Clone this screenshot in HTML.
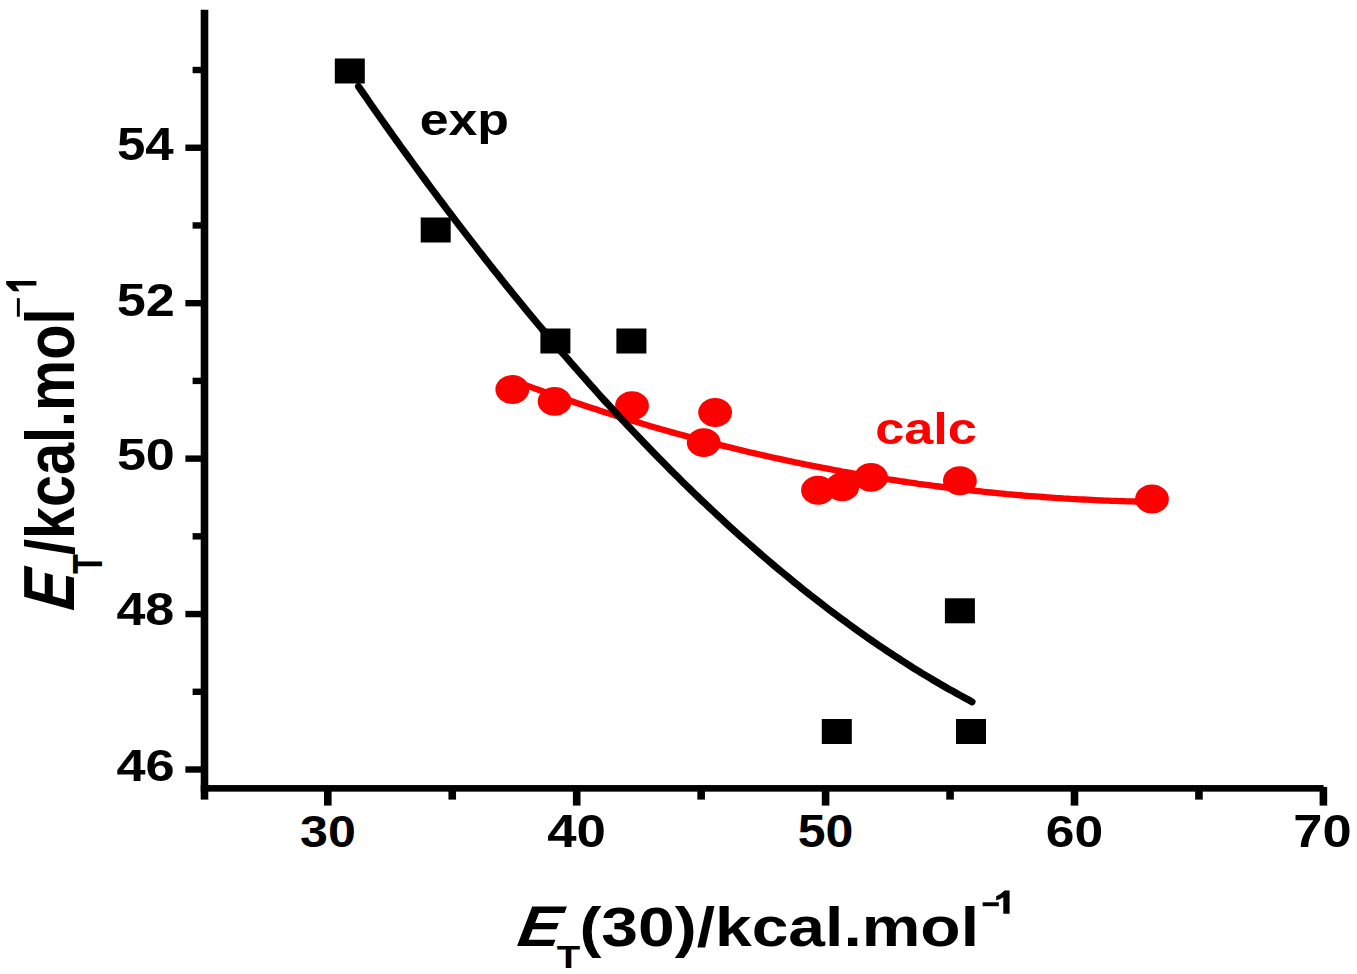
<!DOCTYPE html><html><head><meta charset="utf-8"><style>html,body{margin:0;padding:0;background:#fff;overflow:hidden}svg{display:block}text{opacity:0.999;font-family:"Liberation Sans",sans-serif;font-weight:bold;font-kerning:none}</style></head><body>
<div id="w">
<svg width="1357" height="974" viewBox="0 0 1357 974">
<rect width="1357" height="974" fill="#fff"/>
<rect x="200.70" y="9.75" width="7.60" height="789.85"/>
<rect x="200.70" y="785.05" width="1122.90" height="6.60"/>
<rect x="324.00" y="788.35" width="7.60" height="17.25"/>
<rect x="572.90" y="788.35" width="7.60" height="17.25"/>
<rect x="821.80" y="788.35" width="7.60" height="17.25"/>
<rect x="1070.70" y="788.35" width="7.60" height="17.25"/>
<rect x="1319.60" y="786.90" width="7.60" height="18.70"/>
<rect x="448.45" y="788.35" width="7.60" height="11.25"/>
<rect x="697.35" y="788.35" width="7.60" height="11.25"/>
<rect x="946.25" y="788.35" width="7.60" height="11.25"/>
<rect x="1195.15" y="788.35" width="7.60" height="11.25"/>
<rect x="185.40" y="766.30" width="19.10" height="6.40"/>
<rect x="185.40" y="610.86" width="19.10" height="6.40"/>
<rect x="185.40" y="455.42" width="19.10" height="6.40"/>
<rect x="185.40" y="299.98" width="19.10" height="6.40"/>
<rect x="185.40" y="144.54" width="19.10" height="6.40"/>
<rect x="192.60" y="688.58" width="11.90" height="6.40"/>
<rect x="192.60" y="533.14" width="11.90" height="6.40"/>
<rect x="192.60" y="377.70" width="11.90" height="6.40"/>
<rect x="192.60" y="222.26" width="11.90" height="6.40"/>
<rect x="192.60" y="66.82" width="11.90" height="6.40"/>
<text transform="translate(116.93 159.60) scale(1.1261 1)" font-size="45.30" fill="#000">54</text>
<text transform="translate(116.69 315.60) scale(1.1530 1)" font-size="45.30" fill="#000">52</text>
<text transform="translate(116.90 470.45) scale(1.1499 1)" font-size="45.30" fill="#000">50</text>
<text transform="translate(116.41 624.60) scale(1.1489 1)" font-size="45.30" fill="#000">48</text>
<text transform="translate(116.41 780.60) scale(1.1547 1)" font-size="45.30" fill="#000">46</text>
<text transform="translate(300.05 847.00) scale(1.1076 1)" font-size="45.30" fill="#000">30</text>
<text transform="translate(547.20 847.00) scale(1.1642 1)" font-size="45.30" fill="#000">40</text>
<text transform="translate(797.76 847.00) scale(1.1053 1)" font-size="45.30" fill="#000">50</text>
<text transform="translate(1045.81 847.00) scale(1.1393 1)" font-size="45.30" fill="#000">60</text>
<text transform="translate(1293.25 847.00) scale(1.1571 1)" font-size="45.30" fill="#000">70</text>
<path d="M512.3,380.2 L516.3,381.7 L520.3,383.2 L524.4,384.7 L528.4,386.1 L532.4,387.6 L536.4,389.1 L540.5,390.5 L544.5,391.9 L548.5,393.3 L552.5,394.7 L556.5,396.1 L560.6,397.5 L564.6,398.9 L568.6,400.3 L572.6,401.6 L576.7,403.0 L580.7,404.3 L584.7,405.7 L588.7,407.0 L592.7,408.3 L596.8,409.6 L600.8,410.9 L604.8,412.2 L608.8,413.5 L612.9,414.7 L616.9,416.0 L620.9,417.2 L624.9,418.5 L628.9,419.7 L633.0,420.9 L637.0,422.1 L641.0,423.3 L645.0,424.5 L649.0,425.7 L653.1,426.9 L657.1,428.0 L661.1,429.2 L665.1,430.3 L669.2,431.5 L673.2,432.6 L677.2,433.7 L681.2,434.8 L685.2,435.9 L689.3,437.0 L693.3,438.1 L697.3,439.1 L701.3,440.2 L705.4,441.2 L709.4,442.3 L713.4,443.3 L717.4,444.3 L721.4,445.4 L725.5,446.4 L729.5,447.3 L733.5,448.3 L737.5,449.3 L741.6,450.3 L745.6,451.2 L749.6,452.2 L753.6,453.1 L757.6,454.0 L761.7,455.0 L765.7,455.9 L769.7,456.8 L773.7,457.7 L777.8,458.6 L781.8,459.4 L785.8,460.3 L789.8,461.2 L793.8,462.0 L797.9,462.8 L801.9,463.7 L805.9,464.5 L809.9,465.3 L814.0,466.1 L818.0,466.9 L822.0,467.7 L826.0,468.4 L830.0,469.2 L834.1,470.0 L838.1,470.7 L842.1,471.5 L846.1,472.2 L850.1,472.9 L854.2,473.6 L858.2,474.3 L862.2,475.0 L866.2,475.7 L870.3,476.4 L874.3,477.0 L878.3,477.7 L882.3,478.3 L886.3,479.0 L890.4,479.6 L894.4,480.2 L898.4,480.8 L902.4,481.5 L906.5,482.0 L910.5,482.6 L914.5,483.2 L918.5,483.8 L922.5,484.3 L926.6,484.9 L930.6,485.4 L934.6,486.0 L938.6,486.5 L942.7,487.0 L946.7,487.5 L950.7,488.0 L954.7,488.5 L958.7,489.0 L962.8,489.4 L966.8,489.9 L970.8,490.4 L974.8,490.8 L978.9,491.2 L982.9,491.7 L986.9,492.1 L990.9,492.5 L994.9,492.9 L999.0,493.3 L1003.0,493.7 L1007.0,494.1 L1011.0,494.4 L1015.1,494.8 L1019.1,495.1 L1023.1,495.5 L1027.1,495.8 L1031.1,496.1 L1035.2,496.4 L1039.2,496.7 L1043.2,497.0 L1047.2,497.3 L1051.2,497.6 L1055.3,497.9 L1059.3,498.1 L1063.3,498.4 L1067.3,498.6 L1071.4,498.9 L1075.4,499.1 L1079.4,499.3 L1083.4,499.5 L1087.4,499.7 L1091.5,499.9 L1095.5,500.1 L1099.5,500.3 L1103.5,500.5 L1107.6,500.6 L1111.6,500.8 L1115.6,500.9 L1119.6,501.1 L1123.6,501.2 L1127.7,501.3 L1131.7,501.4 L1135.7,501.5 L1139.7,501.6 L1143.8,501.7 L1147.8,501.8 L1151.8,501.8" fill="none" stroke="#f00" stroke-width="6.30" stroke-linejoin="round" stroke-linecap="round"/>
<ellipse cx="512.30" cy="389.50" rx="16.90" ry="14.45" fill="#f00"/>
<ellipse cx="554.60" cy="401.40" rx="16.90" ry="14.45" fill="#f00"/>
<ellipse cx="632.00" cy="405.70" rx="16.90" ry="14.45" fill="#f00"/>
<ellipse cx="715.10" cy="412.50" rx="16.90" ry="14.45" fill="#f00"/>
<ellipse cx="703.70" cy="442.60" rx="16.90" ry="14.45" fill="#f00"/>
<ellipse cx="818.00" cy="490.30" rx="16.90" ry="14.45" fill="#f00"/>
<ellipse cx="842.20" cy="486.90" rx="16.90" ry="14.45" fill="#f00"/>
<ellipse cx="871.00" cy="477.40" rx="16.90" ry="14.45" fill="#f00"/>
<ellipse cx="959.90" cy="480.80" rx="16.90" ry="14.45" fill="#f00"/>
<ellipse cx="1152.00" cy="499.00" rx="16.90" ry="14.45" fill="#f00"/>
<path d="M358.5,86.5 L362.4,92.1 L366.2,97.6 L370.1,103.2 L373.9,108.7 L377.8,114.2 L381.7,119.7 L385.5,125.1 L389.4,130.6 L393.2,136.0 L397.1,141.4 L400.9,146.7 L404.8,152.1 L408.7,157.4 L412.5,162.7 L416.4,168.0 L420.2,173.3 L424.1,178.5 L428.0,183.8 L431.8,189.0 L435.7,194.2 L439.5,199.3 L443.4,204.5 L447.2,209.6 L451.1,214.7 L455.0,219.8 L458.8,224.9 L462.7,229.9 L466.5,234.9 L470.4,239.9 L474.3,244.9 L478.1,249.9 L482.0,254.8 L485.8,259.7 L489.7,264.6 L493.5,269.5 L497.4,274.3 L501.3,279.2 L505.1,284.0 L509.0,288.8 L512.8,293.5 L516.7,298.3 L520.6,303.0 L524.4,307.7 L528.3,312.4 L532.1,317.0 L536.0,321.7 L539.8,326.3 L543.7,330.9 L547.6,335.5 L551.4,340.0 L555.3,344.6 L559.1,349.1 L563.0,353.6 L566.9,358.0 L570.7,362.5 L574.6,366.9 L578.4,371.3 L582.3,375.7 L586.2,380.0 L590.0,384.4 L593.9,388.7 L597.7,393.0 L601.6,397.3 L605.4,401.5 L609.3,405.7 L613.2,409.9 L617.0,414.1 L620.9,418.3 L624.7,422.4 L628.6,426.5 L632.5,430.6 L636.3,434.7 L640.2,438.8 L644.0,442.8 L647.9,446.8 L651.7,450.8 L655.6,454.8 L659.5,458.7 L663.3,462.6 L667.2,466.5 L671.0,470.4 L674.9,474.2 L678.8,478.1 L682.6,481.9 L686.5,485.7 L690.3,489.4 L694.2,493.2 L698.0,496.9 L701.9,500.6 L705.8,504.2 L709.6,507.9 L713.5,511.5 L717.3,515.1 L721.2,518.7 L725.1,522.3 L728.9,525.8 L732.8,529.3 L736.6,532.8 L740.5,536.3 L744.3,539.7 L748.2,543.1 L752.1,546.5 L755.9,549.9 L759.8,553.3 L763.6,556.6 L767.5,559.9 L771.4,563.2 L775.2,566.5 L779.1,569.7 L782.9,572.9 L786.8,576.1 L790.7,579.3 L794.5,582.4 L798.4,585.6 L802.2,588.7 L806.1,591.7 L809.9,594.8 L813.8,597.8 L817.7,600.8 L821.5,603.8 L825.4,606.8 L829.2,609.7 L833.1,612.6 L837.0,615.5 L840.8,618.4 L844.7,621.2 L848.5,624.0 L852.4,626.8 L856.2,629.6 L860.1,632.4 L864.0,635.1 L867.8,637.8 L871.7,640.5 L875.5,643.1 L879.4,645.8 L883.3,648.4 L887.1,651.0 L891.0,653.5 L894.8,656.1 L898.7,658.6 L902.5,661.1 L906.4,663.5 L910.3,666.0 L914.1,668.4 L918.0,670.8 L921.8,673.2 L925.7,675.5 L929.6,677.8 L933.4,680.1 L937.3,682.4 L941.1,684.6 L945.0,686.9 L948.8,689.1 L952.7,691.2 L956.6,693.4 L960.4,695.5 L964.3,697.6 L968.1,699.7 L972.0,701.8" fill="none" stroke="#000" stroke-width="7.10" stroke-linejoin="round" stroke-linecap="round"/>
<rect x="334.80" y="58.50" width="30.00" height="25.00"/>
<rect x="420.70" y="217.50" width="30.00" height="25.00"/>
<rect x="540.40" y="328.50" width="30.00" height="25.00"/>
<rect x="616.40" y="328.50" width="30.00" height="25.00"/>
<rect x="821.80" y="719.00" width="30.00" height="25.00"/>
<rect x="944.90" y="598.30" width="30.00" height="25.00"/>
<rect x="956.00" y="719.00" width="30.00" height="25.00"/>
<text transform="translate(419.73 134.70) scale(1.1646 1)" font-size="44.50" fill="#000">exp</text>
<text transform="translate(875.16 444.10) scale(1.1751 1)" font-size="44.50" fill="#f00">calc</text>
<text transform="translate(512.71 945.70) scale(1.1200 1) skewX(-19.00)" font-size="57.30">E</text>
<text transform="translate(556.77 967.50) scale(1.2397 1)" font-size="30.96" fill="#000">T</text>
<text transform="translate(579.41 945.80) scale(1.1780 1)" font-size="56.00" fill="#000">(30)/kcal.mol</text>
<rect x="982.6" y="902.3" width="16.2" height="3.9"/>
<path d="M1004.5,890.4 H1009.6 V913.8 H1003.3 V897.2 Q1000,899.5 996.2,900.2 V896.2 Q1000.5,894.5 1004.5,890.4 Z"/>
<text transform="translate(73.50 614.28) scale(1.2500 1) rotate(-90) skewX(-18.80)" font-size="58.00">E</text>
<text transform="translate(101.80 573.76) scale(1.3289 1) rotate(-90)" font-size="32.27">T</text>
<text transform="translate(73.50 555.00) scale(1.1800 1) rotate(-90)" font-size="57.60">/kcal.mol</text>
<rect x="16.9" y="298.2" width="2.9" height="18.5"/>
<path d="M6.2,281 H36.4 V285.4 H15.4 L19.6,291.3 H13.3 L6.2,284.5 Z"/>
</svg></div></body></html>
